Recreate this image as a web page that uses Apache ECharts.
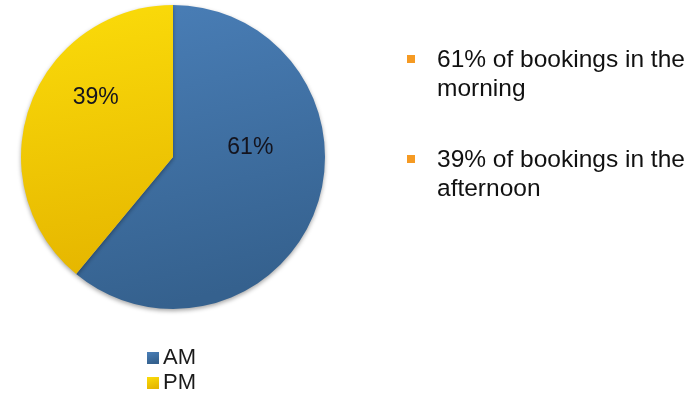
<!DOCTYPE html>
<html><head><meta charset="utf-8">
<script src="https://cdn.jsdelivr.net/npm/echarts@6/dist/echarts.min.js"></script>
<style>html,body{margin:0;padding:0;background:#fff}#c{width:700px;height:396px}</style>
</head><body><div id="c"></div>
<script>
const categories = ['AM', 'PM'];
const values = [61, 39];
const bullets = ['61% of bookings in the\nmorning', '39% of bookings in the\nafternoon'];

const gradients = [
  {type:'linear',x:0,y:0,x2:0.3,y2:1,colorStops:[{offset:0,color:'#4a7fb8'},{offset:1,color:'#35618e'}]},
  {type:'linear',x:0,y:0,x2:0.3,y2:1,colorStops:[{offset:0,color:'#fbdc0a'},{offset:1,color:'#e6b700'}]}
];
const labelShift = [[3,-36],[-3,-33]];

const chart = echarts.init(document.getElementById('c'));
chart.setOption({
  animation:false,
  legend:{
    orient:'vertical', left:145, top:345, height:60, width:100, padding:2,
    itemWidth:12, itemHeight:12, itemGap:3, icon:'rect',
    textStyle:{fontFamily:'Liberation Sans', fontSize:22, color:'#1a1a1a', padding:[0,0,0,-1]},
    data:categories
  },
  series:[{
    type:'pie', center:[173,157], radius:152, startAngle:90, clockwise:true,
    data: categories.map((c,i)=>({name:c, value:values[i], itemStyle:{color:gradients[i]}})),
    label:{show:true, position:'inside', formatter:'{c}%', fontFamily:'Liberation Sans', fontSize:23, color:'#14141e'},
    labelLayout:function(p){ const s=labelShift[p.dataIndex]; return {dx:s[0], dy:s[1]}; },
    itemStyle:{borderWidth:0, shadowBlur:4, shadowColor:'rgba(0,0,0,0.35)', shadowOffsetY:2},
    emphasis:{disabled:true}
  }],
  graphic: bullets.flatMap((t,i)=>[
    {type:'rect', shape:{x:407, y:55+i*100, width:8, height:8}, style:{fill:'#f59a23'}},
    {type:'text', left:437, top:46+i*100, style:{text:t, fontFamily:'Liberation Sans', fontSize:24.5, lineHeight:28.5, fill:'#111111'}}
  ])
});
</script></body></html>
